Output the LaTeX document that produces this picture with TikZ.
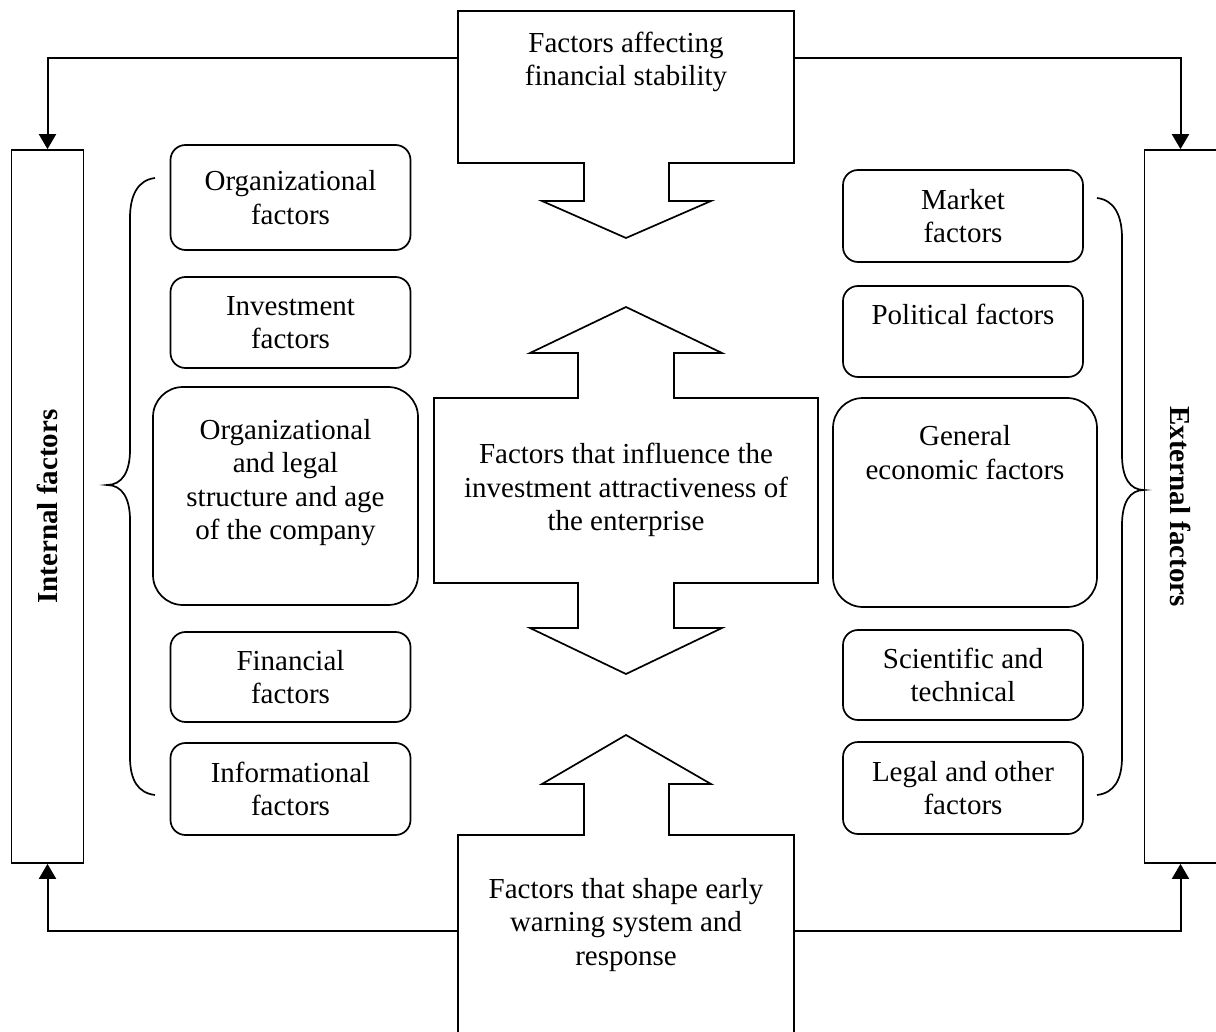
\documentclass[tikz,border=0pt]{standalone}
\usepackage{fontspec}
\setmainfont{Liberation Serif}
\usetikzlibrary{arrows.meta, positioning}

\tikzset{
    rbox/.style={draw, line width=0.85pt, rounded corners=7.5pt, align=center, minimum width=120pt, inner sep=2pt},
    widebox/.style={rbox, rounded corners=15pt, minimum width=132.5pt},
    sidebox/.style={draw, line width=0.85pt, minimum width=356.5pt, minimum height=36pt, font=\fontsize{14.5}{16.75}\selectfont\bfseries},
    blockarrow/.style={draw, line width=0.85pt, fill=white},
    conn/.style={line width=1pt, -{Triangle[width=8.5pt,length=7.5pt]}}
}

\begin{document}
\begin{tikzpicture}[x=0.5pt, y=-0.5pt, font=\fontsize{14.5}{16.75}\selectfont]
    \clip (0,0) rectangle (1216,1032);

    \draw[blockarrow] (458,11) -- (794,11) -- (794,163) -- (669,163) -- (669,201) -- (711,201) -- (626,238) -- (542,201) -- (584,201) -- (584,163) -- (458,163) -- cycle;
    \node[align=center] (stab) at (626,62) {Factors affecting\\financial stability};

    \draw[blockarrow] (434,398) -- (578,398) -- (578,353) -- (530,353) -- (626,307) -- (722,353) -- (674,353) -- (674,398) -- (818,398) -- (818,583) -- (674,583) -- (674,628) -- (722,628) -- (626,674) -- (530,628) -- (578,628) -- (578,583) -- (434,583) -- cycle;
    \node[align=center] (attract) at (626,490) {Factors that influence the\\investment attractiveness of\\the enterprise};

    \draw[blockarrow] (458,1040) -- (458,835) -- (584,835) -- (584,784) -- (542,784) -- (626,735) -- (711,784) -- (669,784) -- (669,835) -- (794,835) -- (794,1040);
    \node[align=center] (warn) at (626,925) {Factors that shape early\\warning system and\\response};

    \coordinate (stabL) at (458,58);
    \coordinate (stabR) at (794,58);
    \coordinate (warnL) at (458,931);
    \coordinate (warnR) at (794,931);

    \node[sidebox, rotate=90] (internal) at (47.5,506.5) {Internal factors};
    \node[sidebox, rotate=-90] (external) at (1180.5,506.5) {External factors};

    \node[rbox, minimum height=52.5pt] (orgf) at (290.5,197.5) {Organizational\\factors};
    \node[rbox, minimum height=45.5pt] (invest) at (290.5,322.5) {Investment\\factors};
    \node[widebox, minimum height=109pt] (orglegal) at (285.5,496) {Organizational\\and legal\\structure and age\\of the company\\~};
    \node[rbox, minimum height=45pt] (finance) at (290.5,677) {Financial\\factors};
    \node[rbox, minimum height=46pt] (inform) at (290.5,789) {Informational\\factors};

    \node[rbox, minimum height=46pt] (market) at (963,216) {Market\\factors};
    \node[rbox, minimum height=45.5pt] (politic) at (963,331.5) {Political factors\\~};
    \node[widebox, minimum width=132pt, minimum height=104.5pt] (geneco) at (965,502.5) {General\\economic factors\\~\\~\\~};
    \node[rbox, minimum height=45pt] (scitech) at (963,675) {Scientific and\\technical};
    \node[rbox, minimum height=46pt] (legalo) at (963,788) {Legal and other\\factors};

    \draw[conn] (stabL) -| (internal);
    \draw[conn] (stabR) -| (external);
    \draw[conn] (warnL) -| (internal);
    \draw[conn] (warnR) -| (external);

    \draw[line width=0.85pt] (155,178) .. controls (138,180) and (130,195) .. (130,218) -- (130,450) .. controls (130,472) and (122,485) .. (107,485) .. controls (122,485) and (130,498) .. (130,520) -- (130,757) .. controls (130,780) and (138,793) .. (155,795);
    \draw[line width=0.85pt] (1097,198) .. controls (1114,200) and (1122,215) .. (1122,238) -- (1122,455) .. controls (1122,478) and (1130,490) .. (1144,490) .. controls (1130,490) and (1122,502) .. (1122,525) -- (1122,757) .. controls (1122,780) and (1114,793) .. (1097,795);

\end{tikzpicture}
\end{document}
